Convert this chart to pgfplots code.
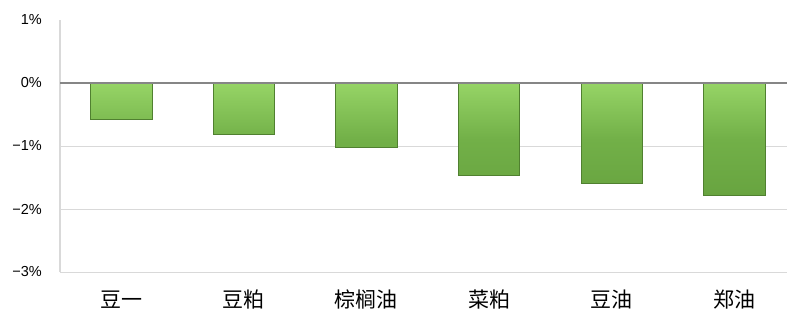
\documentclass[border=0pt]{standalone}
\usepackage{pgfplots}
\pgfplotsset{compat=1.18}
\usepackage{fontspec}
\setmainfont{Liberation Sans}
\newfontfamily\cjk{Noto Sans CJK SC}
\definecolor{gridc}{RGB}{217,217,217}
\definecolor{zeroc}{RGB}{134,134,134}
\definecolor{barmid}{RGB}{114,176,72}
\definecolor{bartop}{RGB}{150,212,102}
\definecolor{barbot}{RGB}{104,164,64}
\definecolor{baredge}{RGB}{80,128,48}
\begin{document}
\begin{tikzpicture}
\begin{axis}[
  scale only axis,
  width=727pt, height=252pt,
  xmin=-0.5, xmax=5.43,
  ymin=-3, ymax=1,
  ytick={-3,-2,-1,0},
  yticklabels={−3\%,−2\%,−1\%,0\%},
  extra y ticks={1},
  extra y tick labels={1\%},
  extra y tick style={grid=none},
  xtick={0,1,2,3,4,5},
  xticklabels={豆一,豆粕,棕榈油,菜粕,豆油,郑油},
  xticklabel style={font=\cjk\fontsize{21}{24}\selectfont, anchor=base, inner sep=0pt, yshift=-35pt},
  yticklabel style={font=\fontsize{14.5}{16}\selectfont, anchor=east, inner sep=0pt, xshift=-18pt},
  tick style={draw=none},
  ymajorgrids, grid style={gridc, line width=0.8pt},
  axis x line*=bottom, axis y line*=left,
  x axis line style={gridc, line width=1pt, -},
  y axis line style={gridc, line width=1.5pt, -},
  clip=false,
]
\addplot[ybar, bar width=0.5, draw=baredge, line width=0.8pt,
  top color=bartop, bottom color=barbot, middle color=barmid]
  coordinates {(0,-0.57) (1,-0.81) (2,-1.02) (3,-1.46) (4,-1.59) (5,-1.78)};
\draw[zeroc, line width=1.2pt] (axis cs:-0.5,0) -- (axis cs:5.43,0);
\end{axis}
\pgfresetboundingbox
\path[use as bounding box] (-60pt,-39pt) rectangle (727pt,272pt);
\end{tikzpicture}
\end{document}
